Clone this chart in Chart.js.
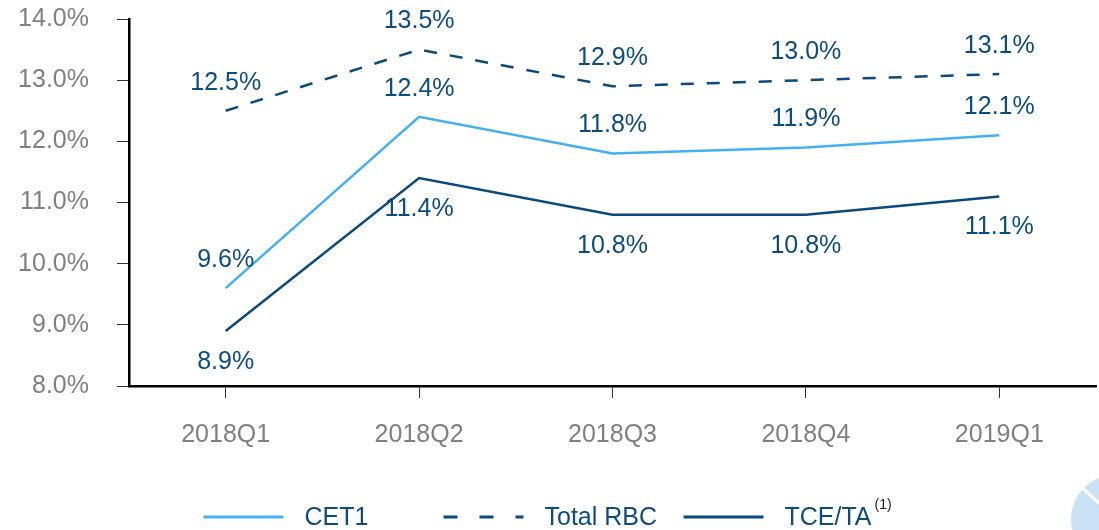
<!DOCTYPE html>
<html>
<head>
<meta charset="utf-8">
<script src="https://cdn.jsdelivr.net/npm/chart.js@4"></script>
<style>
  body { margin: 0; background: #fff; }
  #wrap { width: 1099px; height: 530px; position: relative; }
</style>
</head>
<body>
<div id="wrap"><canvas id="ratioChart"></canvas></div>
<script>
const quarters = ['2018Q1', '2018Q2', '2018Q3', '2018Q4', '2019Q1'];
const cet1 = [9.6, 12.4, 11.8, 11.9, 12.1];
const totalRbc = [12.5, 13.5, 12.9, 13.0, 13.1];
const tceTa = [8.9, 11.4, 10.8, 10.8, 11.1];
const yTicks = [8, 9, 10, 11, 12, 13, 14];

const FONT = '"Liberation Sans", Arial, sans-serif';
const LIGHT = '#45aff5';
const DARK = '#0b4a7e';
const LABEL = '#0d4c80';

// point labels drawn above / below each point
const pointLabels = {
  id: 'pointLabels',
  afterDatasetsDraw(chart) {
    const ctx = chart.ctx;
    ctx.save();
    ctx.font = '25px ' + FONT;
    ctx.fillStyle = LABEL;
    ctx.textAlign = 'center';
    ctx.textBaseline = 'middle';
    chart.data.datasets.forEach((ds, i) => {
      chart.getDatasetMeta(i).data.forEach((pt, j) => {
        ctx.fillText(ds.data[j].toFixed(1) + '%', pt.x, pt.y + ds.labelOffset);
      });
    });
    ctx.restore();
  }
};

// legend with line samples and the (1) footnote mark
const lineLegend = {
  id: 'lineLegend',
  afterDraw(chart) {
    const ctx = chart.ctx;
    const y = 517;
    let x = chart.width / 2 - 346;
    ctx.save();
    chart.data.datasets.forEach(ds => {
      ctx.beginPath();
      ctx.strokeStyle = ds.borderColor;
      ctx.lineWidth = 3;
      ctx.setLineDash(ds.borderDash ? [14, 22] : []);
      ctx.moveTo(x, y);
      ctx.lineTo(x + 80, y);
      ctx.stroke();
      ctx.setLineDash([]);
      ctx.font = '25px ' + FONT;
      ctx.fillStyle = LABEL;
      ctx.textAlign = 'left';
      ctx.textBaseline = 'middle';
      ctx.fillText(ds.label, x + 101, y + 1);
      if (ds.note) {
        const w = ctx.measureText(ds.label).width;
        ctx.font = '14px ' + FONT;
        ctx.fillStyle = '#222';
        ctx.fillText(ds.note, x + 104 + w, y - 12);
      }
      x += 240;
    });
    ctx.restore();
  }
};

// partial logo circle in the corner
const cornerLogo = {
  id: 'cornerLogo',
  beforeDraw(chart) {
    const ctx = chart.ctx;
    ctx.save();
    ctx.beginPath();
    ctx.fillStyle = '#c9e2f5';
    ctx.arc(1115, 519, 44, 0, Math.PI * 2);
    ctx.fill();
    ctx.strokeStyle = '#fff';
    ctx.lineWidth = 3;
    ctx.beginPath();
    ctx.moveTo(1078, 484);
    ctx.lineTo(1103, 507);
    ctx.stroke();
    ctx.restore();
  }
};

new Chart(document.getElementById('ratioChart').getContext('2d'), {
  type: 'line',
  data: {
    labels: quarters,
    datasets: [
      { label: 'CET1', data: cet1, borderColor: LIGHT, borderWidth: 2.5, labelOffset: -28 },
      { label: 'Total RBC', data: totalRbc, borderColor: DARK, borderWidth: 2.5, borderDash: [13, 13], labelOffset: -28 },
      { label: 'TCE/TA', data: tceTa, borderColor: DARK, borderWidth: 2.5, labelOffset: 31, note: '(1)' }
    ]
  },
  options: {
    responsive: true,
    maintainAspectRatio: false,
    animation: false,
    layout: { padding: { top: 19, right: 3, left: 0, bottom: 0 } },
    elements: { point: { radius: 0 }, line: { tension: 0, fill: false } },
    plugins: { legend: { display: false }, tooltip: { enabled: false } },
    scales: {
      x: {
        offset: true,
        afterFit(scale) { scale.height = 144; scale.paddingLeft = 0; scale.paddingRight = 0; },
        grid: { drawOnChartArea: false, tickLength: 12, color: '#333', lineWidth: 1, offset: false },
        border: { color: '#000', width: 2.5 },
        ticks: { color: '#808080', font: { family: FONT, size: 25 }, padding: 22 }
      },
      y: {
        min: 8,
        max: 14,
        afterFit(scale) { scale.width = 129; scale.paddingTop = 0; scale.paddingBottom = 0; },
        afterBuildTicks(scale) { scale.ticks = yTicks.map(v => ({ value: v })); },
        grid: { drawOnChartArea: false, tickLength: 12, color: '#333', lineWidth: 1 },
        border: { color: '#000', width: 2.5 },
        ticks: {
          color: '#808080',
          font: { family: FONT, size: 25 },
          padding: 28,
          callback: v => v.toFixed(1) + '%'
        }
      }
    }
  },
  plugins: [pointLabels, lineLegend, cornerLogo]
});
</script>
</body>
</html>
